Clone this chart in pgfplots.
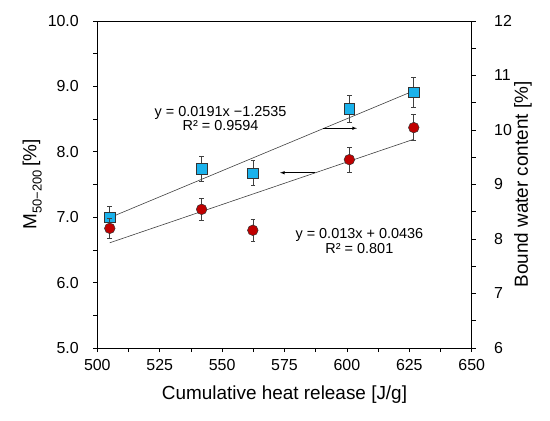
\documentclass[border=0pt]{standalone}
\usepackage{fontspec}
\setmainfont{Liberation Sans}
\usepackage{pgfplots}
\pgfplotsset{compat=1.18}
\definecolor{myblue}{HTML}{1AB2EC}
\definecolor{myred}{HTML}{C00000}
\definecolor{lgray}{HTML}{404040}
\pgfplotsset{
  base/.style={
    at={(97.3bp,73bp)}, anchor=south west,
    scale only axis, width=374.4bp, height=327bp,
    xmin=500, xmax=650,
    tick align=outside,
    major tick length=4bp, minor tick length=4bp,
    every tick/.style={black, line width=0.7pt},
    axis line style={black, line width=0.8pt},
    /pgf/number format/assume math mode=true,
    ticklabel style={font=\fontsize{16}{18}\selectfont},
    label style={font=\fontsize{19}{22}\selectfont},
    clip=false,
  },
  errs/.style={
    error bars/.cd, y dir=both, y explicit,
    error bar style={lgray, line width=0.6pt},
    error mark options={rotate=90, mark size=2.3bp, lgray, line width=0.6pt},
  },
}
\begin{document}
\begin{tikzpicture}
\path[use as bounding box] (0,0) rectangle (550bp,421bp);
% right axis: bound water content
\begin{axis}[base,
  ymin=6, ymax=12,
  axis x line=none, axis y line*=right,
  ytick={6,7,8,9,10,11,12}, minor y tick num=1,
  yticklabel style={xshift=15bp},
  ylabel={Bound water content [\%]},
  ylabel style={anchor=center, at={(axis description cs:1.137,0.5)}},
]
\addplot[lgray, line width=0.6pt, forget plot] coordinates {(505,8.392) (626.8,10.719)};
\addplot[only marks, mark=square*, mark size=5.3bp,
  mark options={fill=myblue, draw=black!80, line width=0.5pt},
  errs] coordinates {
  (505,8.40) +- (0,0.20)
  (541.8,9.29) +- (0,0.23)
  (562.3,9.21) +- (0,0.23)
  (601,10.39) +- (0,0.25)
  (626.8,10.69) +- (0,0.27)
};
\end{axis}
% left axis: M50-200
\begin{axis}[base,
  ymin=5, ymax=10,
  xtick={500,525,...,650}, minor x tick num=1,
  ytick={5,6,7,8,9,10}, minor y tick num=1,
  xtick pos=bottom, ytick pos=left,
  yticklabel style={/pgf/number format/.cd, fixed, fixed zerofill, precision=1, /tikz/.cd, xshift=-11bp},
  xticklabel style={yshift=-4bp},
  xlabel={Cumulative heat release [J/g]},
  xlabel style={anchor=base, at={(axis description cs:0.5,-0.159)}},
  ylabel={M\raisebox{-0.28em}{\fontsize{13}{13}\selectfont 50−200}\,[\%]},
  ylabel style={anchor=center, at={(axis description cs:-0.174,0.5)}},
]
\addplot[lgray, line width=0.6pt, forget plot] coordinates {(505,6.609) (626.8,8.192)};
\addplot[only marks, mark=*, mark size=5.3bp,
  mark options={fill=myred, draw=black!80, line width=0.5pt},
  errs] coordinates {
  (505,6.83) +- (0,0.16)
  (541.8,7.12) +- (0,0.17)
  (562.3,6.80) +- (0,0.17)
  (601,7.88) +- (0,0.19)
  (626.8,8.37) +- (0,0.20)
};
\draw[-latex, black, line width=0.6pt] (axis cs:590.5,8.36) -- (axis cs:604,8.36);
\draw[-latex, black, line width=0.6pt] (axis cs:587.2,7.68) -- (axis cs:573.2,7.68);
\node[anchor=base, font=\fontsize{14.5}{16}\selectfont] at (axis cs:549.4,8.54) {y = 0.0191x −1.2535};
\node[anchor=base, font=\fontsize{14.5}{16}\selectfont] at (axis cs:549.4,8.33) {R² = 0.9594};
\node[anchor=base, font=\fontsize{14.5}{16}\selectfont] at (axis cs:605,6.68) {y = 0.013x + 0.0436};
\node[anchor=base, font=\fontsize{14.5}{16}\selectfont] at (axis cs:605,6.44) {R² = 0.801};
\end{axis}
\end{tikzpicture}
\end{document}
